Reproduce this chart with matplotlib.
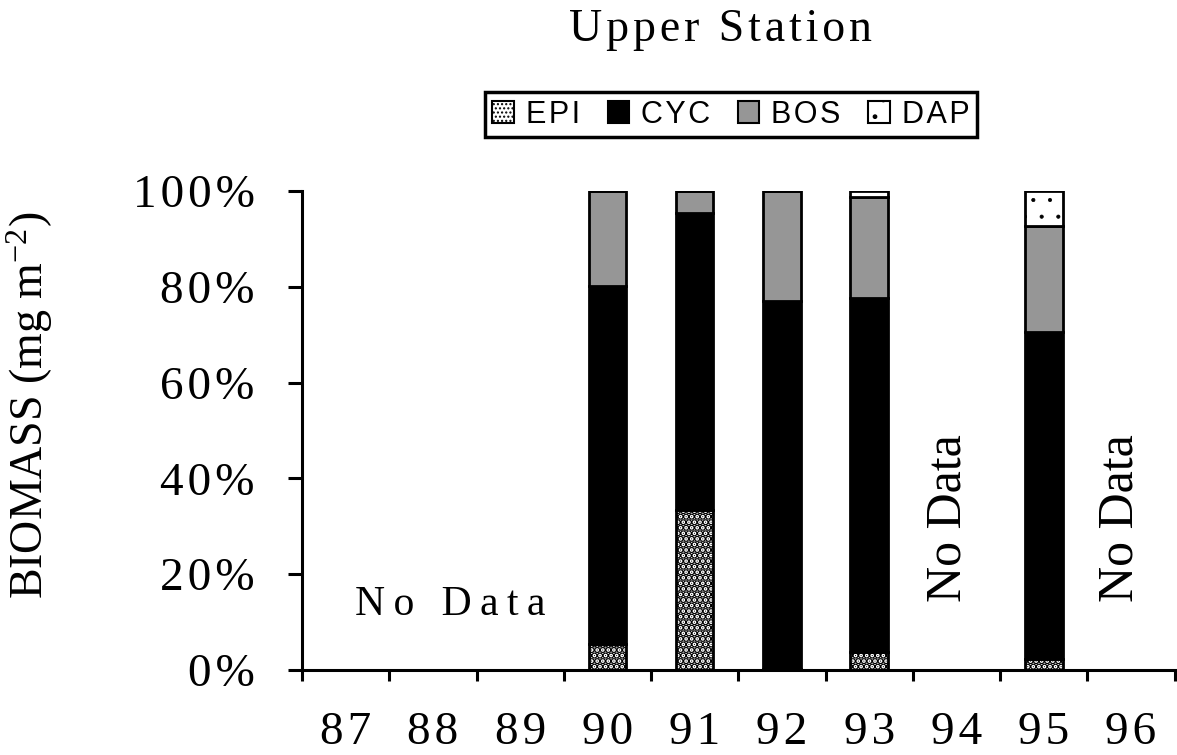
import numpy as np
import matplotlib
matplotlib.use('Agg')
from matplotlib import pyplot as plt
from matplotlib.patches import Patch

plt.rcParams['font.family'] = 'Liberation Serif'
plt.rcParams['mathtext.default'] = 'regular'

HS = '\u200a'  # hair space, to spread letters a little like the original
TS = '\u2009'  # thin space


def spaced(s, sep=HS):
    return sep.join(s)


years = [87, 88, 89, 90, 91, 92, 93, 94, 95, 96]
has_data = [False, False, False, True, True, True, True, False, True, False]

# percent of total biomass, per taxon
epi = [0, 0, 0, 5.4, 33.4, 0.3, 3.8, 0, 2.3, 0]
cyc = [0, 0, 0, 74.8, 62.0, 76.7, 73.9, 0, 68.3, 0]
bos = [0, 0, 0, 19.8, 4.6, 23.0, 21.0, 0, 22.1, 0]
dap = [0, 0, 0, 0.0, 0.0, 0.0, 1.3, 0, 7.3, 0]

ytick_vals = [0, 0.2, 0.4, 0.6, 0.8, 1.0]
ytick_labels = ['0%', '20%', '40%', '60%', '80%', '100%']

x = np.array(years)[has_data]
epi_v = np.array(epi)[has_data] / 100
cyc_v = np.array(cyc)[has_data] / 100
bos_v = np.array(bos)[has_data] / 100
dap_v = np.array(dap)[has_data] / 100

fig = plt.figure(figsize=(11.77, 7.55), dpi=100)
ax = fig.add_axes([0.2566, 0.1126, 0.7414, 0.6344])

w = 0.43
lw = 2
with plt.rc_context({'hatch.linewidth': 3.5}):
    ax.bar(x, epi_v, w, color='white', edgecolor='black', hatch='...', linewidth=lw)
ax.bar(x, cyc_v, w, bottom=epi_v, color='black', edgecolor='black', linewidth=lw)
ax.bar(x, bos_v, w, bottom=epi_v + cyc_v, color='#969696', edgecolor='black', linewidth=lw)
with plt.rc_context({'hatch.linewidth': 0.5}):
    ax.bar(x, dap_v, w, bottom=epi_v + cyc_v + bos_v, color='white', edgecolor='black',
           hatch='.', linewidth=lw)

ax.set_xlim(86.5, 96.5)
ax.set_ylim(0, 1)
ax.set_yticks(ytick_vals)
ax.set_yticklabels([spaced(t) for t in ytick_labels])
ax.set_xticks(years)
ax.set_xticklabels([spaced(str(y)) for y in years])
ax.set_xticks(np.arange(86.5, 97, 1), minor=True)
ax.tick_params(axis='x', which='major', length=0, pad=30, labelsize=34)
ax.tick_params(axis='x', which='minor', length=8, width=2.2, direction='out')
ax.tick_params(axis='y', length=10, width=2.2, direction='out', pad=24, labelsize=34)

for s in ['top', 'right']:
    ax.spines[s].set_visible(False)
for s in ['left', 'bottom']:
    ax.spines[s].set_linewidth(2.2)

ax.set_ylabel('BIOMASS (mg m$^{-2}$)', fontsize=33)
ax.yaxis.set_label_coords(-0.283, 0.553)

ax.text(88.2, 0.136, spaced('No Data', TS), fontsize=30, ha='center', va='center')
ax.text(93.9, 0.317, 'No Data', fontsize=36, ha='center', va='center', rotation=90)
ax.text(95.88, 0.317, 'No Data', fontsize=36, ha='center', va='center', rotation=90)

fig.text(0.612, 0.96, spaced('Upper Station'), fontsize=33, ha='center', va='center')

with plt.rc_context({'hatch.linewidth': 2.5}):
    h_epi = Patch(facecolor='white', edgecolor='black', hatch='....', linewidth=1.5, label=spaced('EPI'))
with plt.rc_context({'hatch.linewidth': 0.5}):
    h_dap = Patch(facecolor='white', edgecolor='black', hatch='.', linewidth=1.5, label=spaced('DAP'))
handles = [
    h_epi,
    Patch(facecolor='black', edgecolor='black', linewidth=1.5, label=spaced('CYC')),
    Patch(facecolor='#969696', edgecolor='black', linewidth=1.5, label=spaced('BOS')),
    h_dap,
]
leg = fig.legend(handles=handles, loc='center', bbox_to_anchor=(0.621, 0.848), ncol=4,
                 prop={'family': 'Liberation Sans', 'size': 22}, fancybox=False,
                 edgecolor='black', framealpha=1, handlelength=0.7, handleheight=0.7,
                 handletextpad=0.4, columnspacing=0.9, borderpad=0.25, borderaxespad=0)
leg.get_frame().set_linewidth(2.5)

plt.savefig('out.png', dpi=100)
